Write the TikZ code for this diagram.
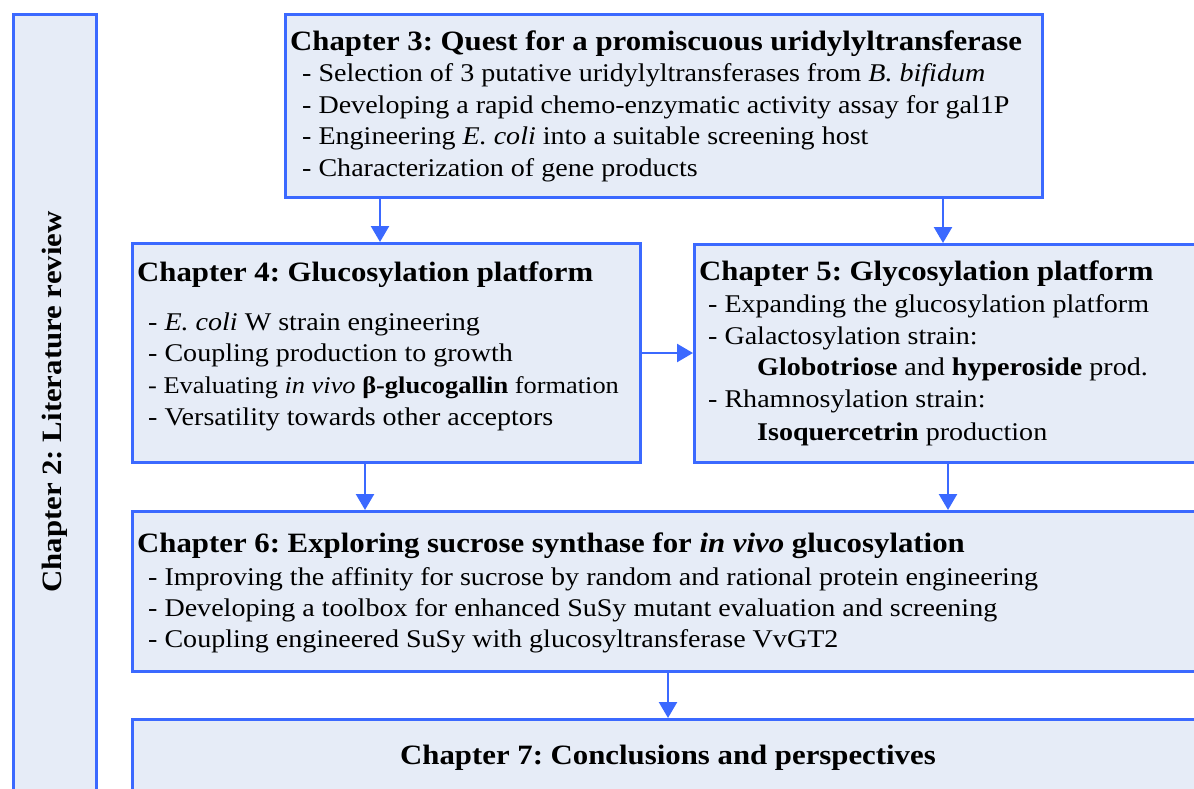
\documentclass[tikz,border=0pt]{standalone}
\usepackage{fontspec}
\setmainfont{Liberation Serif}[FakeStretch=1.1]
\usetikzlibrary{positioning,calc,arrows.meta}
\definecolor{BoxClr}{RGB}{59,105,255}
\definecolor{FillClr}{RGB}{230,236,247}
\frenchspacing

\tikzset{
  chbox/.style={draw=BoxClr, fill=FillClr, line width=3pt, inner sep=0pt, anchor=north west},
  chtitle/.style={inner sep=0pt, anchor=base west, font=\fontsize{28}{34}\selectfont\bfseries},
  chline/.style={inner sep=0pt, anchor=base west, font=\fontsize{25.5}{30}\selectfont},
  chlink/.style={draw=BoxClr, line width=2.5pt, -{Triangle[length=16pt,width=18pt]}}
}

\begin{document}
\begin{tikzpicture}[x=1pt,y=-1pt]
\useasboundingbox (0,0) rectangle (1194,789);

% Boxes of the chapters.
\node[chbox, minimum width=83, minimum height=820] (ch2) at (12,13) {};
\node[chbox, minimum width=757, minimum height=183] (ch3) at (284,13) {};
\node[chbox, minimum width=508, minimum height=219] (ch4) at (131,242) {};
\node[chbox, minimum width=520, minimum height=218] (ch5) at (693,243) {};
\node[chbox, minimum width=1080, minimum height=160] (ch6) at (131,510) {};
\node[chbox, minimum width=1080, minimum height=100] (ch7) at (131,718) {};

% Chapter 2 along the left side.
\node[inner sep=0pt, rotate=90, font=\fontsize{28}{34}\selectfont\bfseries] (ch2t) at (55,402) {Chapter 2: Literature review};

% Chapter 3.
\node[chtitle] (ch3t) at (290,51) {Chapter 3: Quest for a promiscuous uridylyltransferase};
\foreach \txt [count=\i] in {
  {- Selection of 3 putative uridylyltransferases from \textit{B. bifidum}},
  {- Developing a rapid chemo-enzymatic activity assay for gal1P},
  {- Engineering \textit{E. coli} into a suitable screening host},
  {- Characterization of gene products}}
  \node[chline] (ch3l\i) at (302,{82+31.5*(\i-1)}) {\txt};

% Chapter 4.
\node[chtitle] (ch4t) at (137,281) {Chapter 4: Glucosylation platform};
\foreach \txt [count=\i] in {
  {- \textit{E. coli} W strain engineering},
  {- Coupling production to growth},
  {\fontsize{24}{30}\selectfont - Evaluating \textit{in vivo} \textbf{β-glucogallin} formation},
  {- Versatility towards other acceptors}}
  \node[chline] (ch4l\i) at (148,{330+31.7*(\i-1)}) {\txt};

% Chapter 5.
\node[chtitle] (ch5t) at (699,280) {Chapter 5: Glycosylation platform};
\node[chline] (ch5l1) at (708,312) {- Expanding the glucosylation platform};
\node[chline] (ch5l2) at (708,344) {- Galactosylation strain:};
\node[chline] (ch5l3) at (757,375) {\textbf{Globotriose} and \textbf{hyperoside} prod.};
\node[chline] (ch5l4) at (708,407) {- Rhamnosylation strain:};
\node[chline] (ch5l5) at (757,440) {\textbf{Isoquercetrin} production};

% Chapter 6.
\node[chtitle] (ch6t) at (137,552) {Chapter 6: Exploring sucrose synthase for \textit{in vivo} glucosylation};
\foreach \txt [count=\i] in {
  {- Improving the affinity for sucrose by random and rational protein engineering},
  {- Developing a toolbox for enhanced SuSy mutant evaluation and screening},
  {- Coupling engineered SuSy with glucosyltransferase VvGT2}}
  \node[chline] (ch6l\i) at (148,{585+31*(\i-1)}) {\txt};

% Chapter 7.
\node[chtitle, anchor=base] (ch7t) at (668,764) {Chapter 7: Conclusions and perspectives};

% Arrows between the chapters.
\coordinate (a34) at ([xshift=96]ch3.south west);
\coordinate (a35) at ([xshift=250]ch5.north west);
\coordinate (a46) at ([xshift=234]ch4.south west);
\coordinate (a56) at ([xshift=255]ch5.south west);
\draw[chlink] (a34) -- (a34 |- ch4.north);
\draw[chlink] (ch3.south -| a35) -- (a35);
\draw[chlink] (ch4.east) -- (ch4.east -| ch5.west);
\draw[chlink] (a46) -- (a46 |- ch6.north);
\draw[chlink] (a56) -- (a56 |- ch6.north);
\draw[chlink] (ch6.south -| ch7t) -- (ch7.north -| ch7t);

\end{tikzpicture}
\end{document}
